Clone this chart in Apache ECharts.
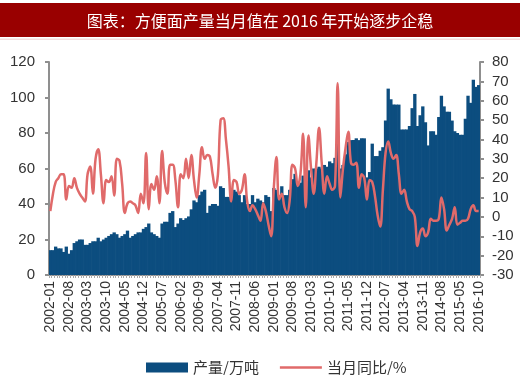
<!DOCTYPE html>
<html>
<head>
<meta charset="utf-8">
<script src="https://cdn.jsdelivr.net/npm/echarts@6/dist/echarts.min.js"></script>
<style>
  html, body { margin: 0; padding: 0; background: #fff; }
  #chart { width: 520px; height: 375px; }
</style>
</head>
<body>
<div id="chart"></div>
<script>
// month spans present in the source (some months missing after 2012)
const monthSpans = [
  ['2002-01', '2012-12'],
  ['2013-03', '2013-12'],
  ['2014-03', '2014-12'],
  ['2015-03', '2015-05'],
  ['2016-04', '2016-10'],
]

// 产量/万吨
const output = [
  14, 14, 16, 15, 15, 13, 16, 12, 14, 18,
  19, 20, 20, 17, 17, 18, 19, 19, 21, 19,
  20, 21, 22, 23, 24, 23, 21, 22, 23, 25,
  21, 22, 23, 24, 24, 26, 27, 29, 24, 23,
  22, 21, 29, 30, 30, 35, 36, 27, 29, 32,
  31, 32, 33, 37, 42, 41, 45, 47, 48, 35,
  39, 40, 40, 39, 50, 49, 44, 44, 44, 48,
  47, 45, 41, 45, 40, 40, 45, 41, 43, 42,
  41, 45, 44, 36, 49, 48, 45, 50, 45, 45,
  48, 54, 57, 52, 52, 56, 58, 59, 55, 60,
  60, 61, 60, 62, 61, 64, 63, 66, 75, 60,
  62, 68, 75, 76, 76, 77, 76, 77, 77, 55,
  58, 74, 67, 67, 70, 72, 87, 105, 99, 96,
  96, 96, 82, 82, 82, 84, 94, 102, 84, 90,
  95, 86, 73, 81, 81, 79, 89, 101, 95, 92,
  92, 87, 81, 80, 79, 79, 88, 101, 97, 110,
  106, 107,
]

// 当月同比/%
const yoy = [
  3, 12, 18, 20, 22, 22, 9, 16, 15, 20,
  15, 12, 10, 8, 22, 26, 12, 30, 35, 22,
  7, 19, 18, 21, 11, 30, 29, 17, 2, 7,
  8, 7, 6, 2, 12, 7, 33, 4, 17, 14,
  21, 7, 34, 18, 12, 27, 27, 19, 5, 22,
  20, 30, 20, 32, 19, 10, 22, 36, 30, 32,
  31, 22, 15, 22, 50, 51, 40, 26, 8, 19,
  18, 12, 14, 22, 8, 3, 6, 4, 1, -2,
  7, 3, -4, -10, 15, 31, 9, 12, 5, 2,
  9, 27, 25, 16, 22, 43, 5, 42, 25, 12,
  28, 46, 28, 12, 21, 17, 14, 16, 69, 10,
  25, 36, 44, 28, 27, 28, 15, 22, 20, 9,
  19, 18, 11, 1, -5, 14, 33, 39, 33, 30,
  32, 22, 12, 14, 8, 4, 3, 0, -15, -8,
  -6, -10, -8, -1, -2, -2, -1, 10, 4, -7,
  -4, -1, 5, -4, -3, -2, -2, -1, 4, 6,
  3, 3,
]

const titleText = '图表：方便面产量当月值在 2016 年开始逐步企稳'

const expandMonths = (spans) => {
  const out = []
  spans.forEach(([from, to]) => {
    let [y, m] = from.split('-').map(Number)
    const [ey, em] = to.split('-').map(Number)
    while (y < ey || (y === ey && m <= em)) {
      out.push(y + '-' + String(m).padStart(2, '0'))
      m++
      if (m > 12) { m = 1; y++ }
    }
  })
  return out
}

const months = expandMonths(monthSpans)

const chart = echarts.init(document.getElementById('chart'), null, { renderer: 'canvas' })

const axisGray = '#8f8f8f'
const barBlue = '#0c4d7f'
const lineRed = '#e06a6a'
const numFont = 'Liberation Sans, Arial, sans-serif'
const cjkFont = 'Noto Sans CJK SC, sans-serif'

const option = {
  animation: false,
  backgroundColor: '#fff',
  graphic: [
    { type: 'rect', shape: { x: 0, y: 3, width: 520, height: 34 }, style: { fill: '#990000' } },
    { type: 'rect', shape: { x: 0, y: 38.5, width: 520, height: 1.5 }, style: { fill: '#f4dada' } },
    {
      type: 'text',
      x: 260,
      y: 21,
      style: {
        text: titleText,
        fill: '#fff',
        font: 'normal 16px ' + cjkFont,
        textAlign: 'center',
        textVerticalAlign: 'middle',
      },
    },
  ],
  legend: {
    left: 141,
    top: 355,
    itemWidth: 42,
    itemHeight: 10,
    itemGap: 21,
    textStyle: { fontSize: 15, color: '#333', fontFamily: cjkFont },
    data: [
      { name: '产量/万吨', icon: 'rect' },
      {
        name: '当月同比/%',
        icon: 'path://M0,0 H42 V2.5 H0 Z',
        itemStyle: { color: lineRed },
      },
    ],
  },
  grid: {
    left: 49,
    right: 40,
    top: 62,
    bottom: 100,
  },
  xAxis: {
    type: 'category',
    data: months,
    boundaryGap: true,
    axisLine: { lineStyle: { color: axisGray, width: 2 } },
    axisTick: { show: true, interval: 0, length: 3, lineStyle: { color: '#aaa' } },
    axisLabel: {
      interval: 6,
      rotate: 90,
      fontSize: 14,
      color: '#333',
      fontFamily: numFont,
      margin: 6,
    },
  },
  yAxis: [
    {
      type: 'value',
      min: 0,
      max: 120,
      interval: 20,
      axisLine: { show: true, lineStyle: { color: axisGray, width: 2 } },
      axisTick: { show: true, length: 4, lineStyle: { color: axisGray, width: 2 } },
      splitLine: { show: false },
      axisLabel: { fontSize: 15, color: '#333', fontFamily: numFont, margin: 14 },
    },
    {
      type: 'value',
      min: -30,
      max: 80,
      interval: 10,
      axisLine: { show: true, lineStyle: { color: axisGray, width: 2 } },
      axisTick: { show: true, length: 4, lineStyle: { color: axisGray, width: 2 } },
      splitLine: { show: false },
      axisLabel: { fontSize: 15, color: '#333', fontFamily: numFont, margin: 12 },
    },
  ],
  series: [
    {
      name: '产量/万吨',
      type: 'bar',
      yAxisIndex: 0,
      data: output,
      barWidth: '125%',
      itemStyle: { color: barBlue },
    },
    {
      name: '当月同比/%',
      type: 'line',
      yAxisIndex: 1,
      data: yoy,
      smooth: 0.4,
      symbol: 'none',
      lineStyle: { color: lineRed, width: 2.5 },
      itemStyle: { color: lineRed },
    },
  ],
}

chart.setOption(option)
</script>
</body>
</html>
